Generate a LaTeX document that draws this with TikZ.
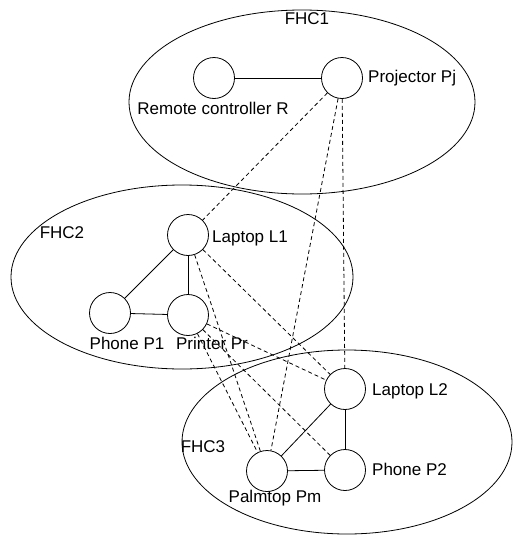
\documentclass[tikz,border=0pt]{standalone}
\usepackage{fontspec}
\setmainfont{Liberation Sans}
\begin{document}
\begin{tikzpicture}[x=1pt,y=-1pt,
  dev/.style={circle,draw,line width=0.8pt,minimum size=41pt,inner sep=0pt},
  lbl/.style={inner sep=0pt,font=\fontsize{17}{20}\selectfont},
  group/.style={draw,line width=0.8pt},
  link/.style={line width=0.8pt},
  wlink/.style={line width=0.8pt,dash pattern=on 4pt off 3pt}]
\useasboundingbox (0,0) rectangle (513,536);
% groups
\draw[group] (302,102) ellipse [x radius=173, y radius=92];
\draw[group] (182,277) ellipse [x radius=171, y radius=92];
\draw[group] (347,442) ellipse [x radius=165, y radius=92];
\node[lbl] (fhc1) at (307,19) {FHC1};
\node[lbl] (fhc2) at (62,233) {FHC2};
\node[lbl] (fhc3) at (203,447) {FHC3};
% devices
\node[dev] (R) at (214,78) {};
\node[dev] (Pj) at (342,78) {};
\node[dev] (L1) at (188,235) {};
\node[dev] (P1) at (110,313) {};
\node[dev] (Pr) at (188,315) {};
\node[dev] (L2) at (345,389) {};
\node[dev] (P2) at (345,470) {};
\node[dev] (Pm) at (267,471) {};
% labels
\node[lbl] (tR) at (213,108) {Remote controller R};
\node[lbl,anchor=west] (tPj) at (368,78) {Projector Pj};
\node[lbl,anchor=west] (tL1) at (212,238) {Laptop L1};
\node[lbl] (tP1) at (127,343) {Phone P1};
\node[lbl] (tPr) at (212,343) {Printer Pr};
\node[lbl,anchor=west] (tL2) at (372,391) {Laptop L2};
\node[lbl,anchor=west] (tP2) at (372,469) {Phone P2};
\node[lbl] (tPm) at (275,498) {Palmtop Pm};
% solid links
\draw[link] (R) -- (Pj);
\draw[link] (L1) -- (P1);
\draw[link] (L1) -- (Pr);
\draw[link] (P1) -- (Pr);
\draw[link] (L2) -- (P2);
\draw[link] (L2) -- (Pm);
\draw[link] (Pm) -- (P2);
% dashed links
\draw[wlink] (Pj) -- (L1);
\draw[wlink] (Pj) -- (Pm);
\draw[wlink] (Pj) -- (L2);
\draw[wlink] (L1) -- (Pm);
\draw[wlink] (L1) -- (L2);
\draw[wlink] (Pr) -- (Pm);
\draw[wlink] (Pr) -- (L2);
\draw[wlink] (Pr) -- (P2);
\end{tikzpicture}
\end{document}
